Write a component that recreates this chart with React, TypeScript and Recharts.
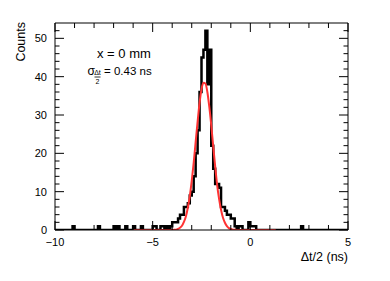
import { ComposedChart, Line, XAxis, YAxis } from "recharts";

// histogram: 150 bins of 0.1 ns from -10 to 5
const binStart = -10;
const binWidth = 0.1;
const binCounts = [
  0, 0, 0, 0, 0, 0, 0, 0, 0, 1,
  0, 0, 0, 0, 0, 0, 0, 0, 0, 0,
  0, 0, 1, 0, 0, 0, 0, 0, 0, 0,
  1, 0, 1, 0, 0, 0, 1, 0, 0, 0,
  1, 0, 0, 0, 1, 0, 0, 0, 0, 0,
  1, 1, 0, 0, 1, 1, 0, 1, 0, 1,
  2, 2, 2, 3, 4, 4, 6, 6, 7, 9,
  10, 14, 20, 26, 36, 45, 47, 52, 38, 47,
  22, 16, 12, 12, 11, 6, 6, 5, 4, 4,
  3, 3, 1, 0, 1, 1, 0, 0, 0, 2,
  1, 1, 1, 0, 0, 0, 0, 0, 0, 0,
  0, 0, 0, 0, 0, 0, 0, 0, 0, 0,
  0, 0, 0, 0, 0, 0, 1, 0, 0, 0,
  0, 0, 0, 0, 0, 0, 0, 0, 0, 0,
  0, 0, 0, 0, 0, 0, 0, 0, 0, 0,
];

// gaussian fit curve
const fitX = [
  -6.0, -4.2, -3.9, -3.8, -3.7, -3.6, -3.5, -3.4, -3.3, -3.2, -3.1, -3.0,
  -2.9, -2.8, -2.7, -2.6, -2.5, -2.4, -2.3, -2.2, -2.1, -2.0, -1.9, -1.8,
  -1.7, -1.6, -1.5, -1.4, -1.3, -1.2, -1.1, -1.0, -0.9, -0.8, -0.6, 1.3,
];
const fitY = [
  0, 0, 0.05, 0.1, 0.3, 0.6, 1.1, 2.1, 3.5, 5.8, 8.8, 12.8,
  17.5, 22.9, 28.2, 33.1, 36.7, 38.4, 38.2, 36.0, 32.1, 27.3, 21.8, 16.6,
  11.8, 8.1, 5.3, 3.2, 1.9, 1.0, 0.5, 0.25, 0.1, 0.05, 0, 0,
];

const xTicks = [-10, -9, -8, -7, -6, -5, -4, -3, -2, -1, 0, 1, 2, 3, 4, 5];
const xLabelled = [-10, -5, 0, 5];
const yTicks = [0, 2, 4, 6, 8, 10, 12, 14, 16, 18, 20, 22, 24, 26, 28, 30, 32, 34, 36, 38, 40, 42, 44, 46, 48, 50, 52];
const yLabelled = [0, 10, 20, 30, 40, 50];

const histData = binCounts.map((c, i) => ({ x: +(binStart + i * binWidth).toFixed(2), count: c }));
histData.push({ x: binStart + binCounts.length * binWidth, count: binCounts[binCounts.length - 1] });
const fitData = fitX.map((x, i) => ({ x, fit: fitY[i] }));

const font = "'Liberation Sans', Arial, sans-serif";
const fmt = (v: number) => (v < 0 ? `\u2212${-v}` : `${v}`);

const BottomTick = (props: any) => {
  const { x, y, payload } = props;
  const v = payload.value;
  const major = xLabelled.includes(v);
  return (
    <g>
      <line x1={x} x2={x} y1={y} y2={y - (major ? 9 : 5)} stroke="#000" />
      {major && (
        <text x={x} y={y + 16} textAnchor="middle" fontSize={11} fontFamily={font} fill="#000">
          {fmt(v)}
        </text>
      )}
    </g>
  );
};

const TopTick = (props: any) => {
  const { x, y, payload } = props;
  const major = xLabelled.includes(payload.value);
  return <line x1={x} x2={x} y1={y} y2={y + (major ? 9 : 5)} stroke="#000" />;
};

const LeftTick = (props: any) => {
  const { x, y, payload } = props;
  const v = payload.value;
  const major = yLabelled.includes(v);
  return (
    <g>
      <line x1={x} x2={x + (major ? 9 : 4.5)} y1={y} y2={y} stroke="#000" />
      {major && (
        <text x={x - 8} y={y + 4} textAnchor="end" fontSize={11} fontFamily={font} fill="#000">
          {v}
        </text>
      )}
    </g>
  );
};

const RightTick = (props: any) => {
  const { x, y, payload } = props;
  const major = yLabelled.includes(payload.value);
  return <line x1={x} x2={x - (major ? 9 : 4.5)} y1={y} y2={y} stroke="#000" />;
};

export default function App() {
  return (
    <div style={{ position: "absolute", left: 0, top: 0, width: 390, height: 281, background: "#fff" }}>
      <ComposedChart width={390} height={281} margin={{ top: 22, right: 41, bottom: 50, left: 54 }}>
        <XAxis xAxisId="b" type="number" dataKey="x" domain={[-10, 5]} ticks={xTicks} interval={0}
          allowDataOverflow height={1} tickSize={0} tickMargin={0} tick={<BottomTick />}
          axisLine={{ stroke: "#000" }} tickLine={false} />
        <XAxis xAxisId="t" orientation="top" type="number" dataKey="x" domain={[-10, 5]} ticks={xTicks}
          interval={0} allowDataOverflow height={1} tickSize={0} tickMargin={0} tick={<TopTick />}
          axisLine={{ stroke: "#000" }} tickLine={false} />
        <YAxis yAxisId="l" type="number" domain={[0, 54]} ticks={yTicks} interval={0} allowDataOverflow
          width={1} tickSize={0} tickMargin={0} tick={<LeftTick />} axisLine={{ stroke: "#000" }} tickLine={false} />
        <YAxis yAxisId="r" orientation="right" type="number" domain={[0, 54]} ticks={yTicks} interval={0}
          allowDataOverflow width={1} tickSize={0} tickMargin={0} tick={<RightTick />}
          axisLine={{ stroke: "#000" }} tickLine={false} />
        <Line xAxisId="b" yAxisId="l" data={histData} dataKey="count" type="stepAfter" stroke="#000"
          strokeWidth={2.5} dot={false} isAnimationActive={false} />
        <Line xAxisId="t" yAxisId="r" data={fitData} dataKey="fit" type="monotone" stroke="#f33"
          strokeWidth={2} dot={false} isAnimationActive={false} />
      </ComposedChart>
      <svg width={390} height={281} style={{ position: "absolute", left: 0, top: 0, pointerEvents: "none" }}>
        <text x={25} y={22} transform="rotate(-90 25 22)" textAnchor="end" fontSize={12.5} fontFamily={font} fill="#000">
          Counts
        </text>
        <text x={348} y={261} textAnchor="end" fontSize={12.5} fontFamily={font} fill="#000">
          Δt/2 (ns)
        </text>
        <text x={97} y={58} fontSize={13} fontFamily={font} fill="#000">
          x = 0 mm
        </text>
        <text x={87.5} y={75} fontSize={12} fontFamily={font} fill="#000">σ</text>
        <text x={97.5} y={74.5} textAnchor="middle" fontSize={7} fontFamily={font} fill="#000">Δt</text>
        <line x1={94.5} x2={100.5} y1={77} y2={77} stroke="#000" strokeWidth={0.8} />
        <text x={97.5} y={84} textAnchor="middle" fontSize={7} fontFamily={font} fill="#000">2</text>
        <text x={104} y={75} fontSize={11.5} fontFamily={font} fill="#000">
          = 0.43 ns
        </text>
      </svg>
    </div>
  );
}
